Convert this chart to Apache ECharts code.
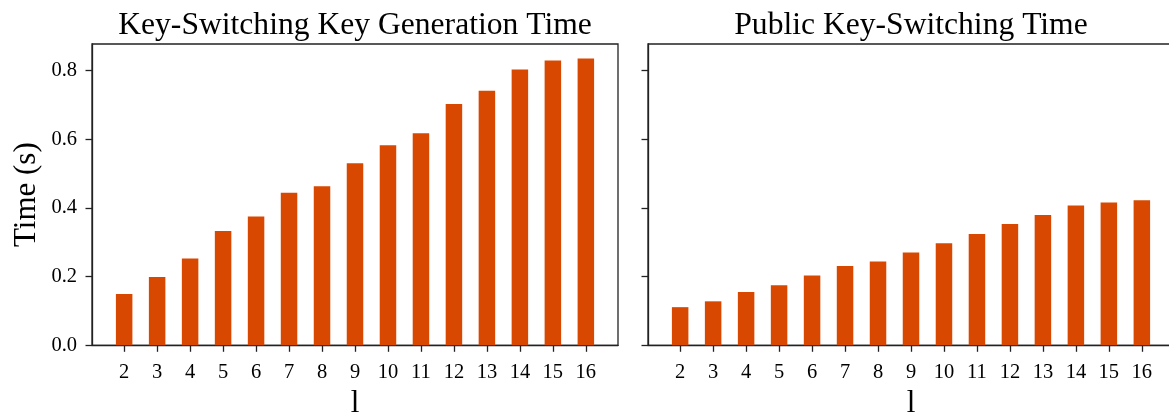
<!DOCTYPE html>
<html>
<head>
<meta charset="utf-8">
<script src="https://cdn.jsdelivr.net/npm/echarts@6/dist/echarts.min.js"></script>
<style>
  html, body { margin: 0; padding: 0; background: #fff; }
  #chart { width: 1169px; height: 414px; }
</style>
</head>
<body>
<div id="chart"></div>
<script>
// Level parameter l on the x axis
const levels = [2, 3, 4, 5, 6, 7, 8, 9, 10, 11, 12, 13, 14, 15, 16];
// Key-switching key generation time (s)
const keyGenTime = [0.149, 0.199, 0.253, 0.333, 0.375, 0.444, 0.463, 0.530, 0.582, 0.617, 0.702, 0.741, 0.803, 0.829, 0.835];
// Public key-switching time (s)
const pubKsTime = [0.111, 0.128, 0.155, 0.175, 0.203, 0.231, 0.244, 0.270, 0.297, 0.324, 0.353, 0.379, 0.407, 0.416, 0.422];
// Y tick values
const yTicks = [0, 0.2, 0.4, 0.6, 0.8];
const titles = ['Key-Switching Key Generation Time', 'Public Key-Switching Time'];

const FONT = "'Liberation Serif', 'DejaVu Serif', serif";
const INK = '#222222';
const BAR = '#d94801';

const chart = echarts.init(document.getElementById('chart'), null, { renderer: 'canvas' });

const gridTop = 44, gridH = 301.3, gridW = 526;
const gridLefts = [92, 648];

function xAxis(i) {
  return {
    type: 'value', gridIndex: i, min: 1.025, max: 16.975,
    name: 'l', nameLocation: 'middle', nameGap: 32,
    nameTextStyle: { fontFamily: FONT, fontSize: 31, color: '#000' },
    axisLine: { show: true, lineStyle: { color: INK, width: 1.3 } },
    axisTick: { show: true, length: 6.5, lineStyle: { color: INK, width: 1.3 }, customValues: levels },
    axisLabel: { fontFamily: FONT, fontSize: 20.5, color: '#000', margin: 17, customValues: levels,
                 formatter: v => String(Math.round(v)) },
    splitLine: { show: false }
  };
}

function yAxis(i) {
  return {
    type: 'value', gridIndex: i, min: 0, max: 0.877,
    name: i === 0 ? 'Time (s)' : '', nameLocation: 'middle', nameGap: 50,
    nameTextStyle: { fontFamily: FONT, fontSize: 31, color: '#000' },
    axisLine: { show: true, lineStyle: { color: INK, width: 1.3 } },
    axisTick: { show: true, length: 6.5, lineStyle: { color: INK, width: 1.3 }, customValues: yTicks },
    axisLabel: { show: i === 0, fontFamily: FONT, fontSize: 20.5, color: '#000', margin: 15, customValues: yTicks,
                 formatter: v => v.toFixed(1) },
    splitLine: { show: false }
  };
}

function barSeries(i, values) {
  return {
    type: 'bar', xAxisIndex: i, yAxisIndex: i,
    data: levels.map((l, k) => [l, values[k]]),
    barWidth: 16.5,
    itemStyle: { color: BAR },
    emphasis: { disabled: true },
    animation: false
  };
}

chart.setOption({
  animation: false,
  title: titles.map((t, i) => ({
    text: t,
    left: gridLefts[i] + gridW / 2,
    top: 10,
    padding: 0,
    textAlign: 'center',
    textStyle: { fontFamily: FONT, fontSize: 31.6, fontWeight: 'normal', color: '#000' }
  })),
  grid: gridLefts.map(l => ({
    left: l, top: gridTop, width: gridW, height: gridH,
    outerBoundsMode: 'none', containLabel: false,
    show: true, borderColor: INK, borderWidth: 1.3, backgroundColor: 'transparent'
  })),
  xAxis: [xAxis(0), xAxis(1)],
  yAxis: [yAxis(0), yAxis(1)],
  series: [barSeries(0, keyGenTime), barSeries(1, pubKsTime)]
});
</script>
</body>
</html>
